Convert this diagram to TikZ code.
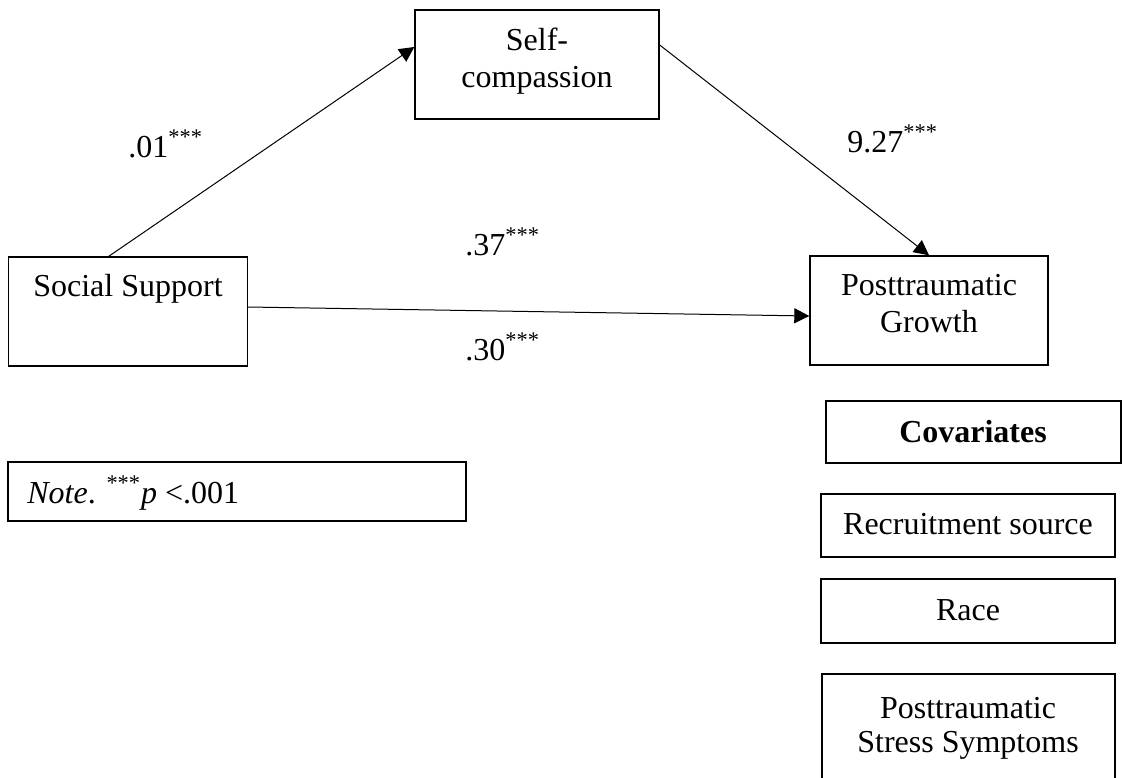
\documentclass[tikz,border=0pt]{standalone}
\usepackage{fontspec}
\setmainfont{Liberation Serif}
\usetikzlibrary{arrows.meta}
\begin{document}
\begin{tikzpicture}[x=0.5pt,y=-0.5pt,
  box/.style={draw, line width=0.7pt, inner sep=0pt, rectangle},
  txt/.style={inner sep=0pt, anchor=base, font=\fontsize{16}{18.5}\selectfont},
  lbl/.style={inner sep=0pt, anchor=base west, font=\fontsize{16}{18.5}\selectfont},
  link/.style={line width=0.5pt, -{Triangle[length=7.5pt,width=7.5pt]}}]
\useasboundingbox (0,0) rectangle (1122,777);
\clip (0,0) rectangle (1122,777);
% boxes
\node[box, minimum width=122pt, minimum height=54.5pt] (sc) at (537,64.5) {};
\node[box, minimum width=119.5pt, minimum height=54.5pt] (ss) at (127.75,311.5) {};
\node[box, minimum width=119pt, minimum height=54.5pt] (pg) at (929,310.5) {};
\node[box, minimum width=147.5pt, minimum height=31pt] (cov) at (973.5,432) {};
\node[box, minimum width=147pt, minimum height=31.5pt] (rec) at (968,525.5) {};
\node[box, minimum width=147pt, minimum height=32pt] (race) at (968,611) {};
\node[box, minimum width=146.5pt, minimum height=63pt] (pss) at (968.5,737) {};
\node[box, minimum width=229pt, minimum height=29.5pt] (noteb) at (237,491.5) {};
% box texts
\node[txt] (tsc1) at (537,50) {Self-};
\node[txt] (tsc2) at (537,87) {compassion};
\node[txt] (tss) at (128,296) {Social Support};
\node[txt] (tpg1) at (929,295) {Posttraumatic};
\node[txt] (tpg2) at (929,332) {Growth};
\node[txt] (tcov) at (973,442) {\textbf{Covariates}};
\node[txt] (trec) at (968,534) {Recruitment source};
\node[txt] (trace) at (968,620) {Race};
\node[txt] (tpss1) at (968,718) {Posttraumatic};
\node[txt] (tpss2) at (968,752) {Stress Symptoms};
\node[lbl] (tnote) at (27,503) {\textit{Note}. \textsuperscript{***}\textit{p} <.001};
% coefficient labels
\node[lbl] (l1) at (128,157) {.01\textsuperscript{***}};
\node[lbl] (l2) at (465,255) {.37\textsuperscript{***}};
\node[lbl] (l3) at (465,360) {.30\textsuperscript{***}};
\node[lbl] (l4) at (847,152) {9.27\textsuperscript{***}};
% connectors
\draw[link] ([xshift=-9.5pt]ss.north) -- ([yshift=8.75pt]sc.west);
\draw[link] ([yshift=9.75pt]sc.east) -- (pg.north);
\draw[link] ([yshift=2.25pt]ss.east) -- ([yshift=-2.75pt]pg.west);
\end{tikzpicture}
\end{document}
